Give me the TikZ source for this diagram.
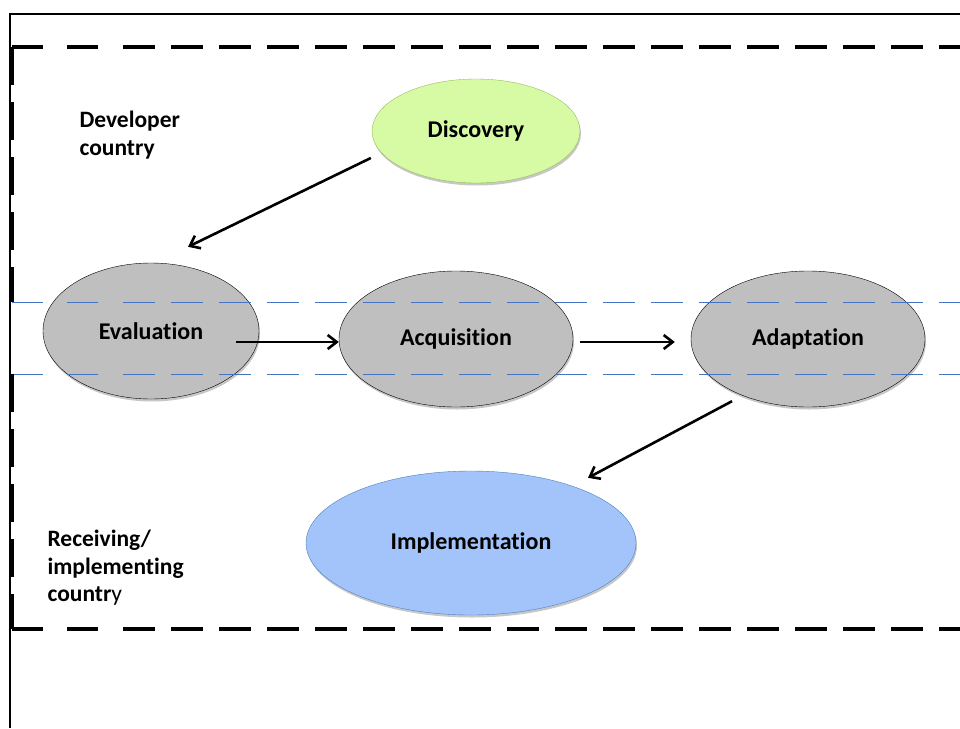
\documentclass[tikz,border=0pt]{standalone}
\usepackage{fontspec}
\setmainfont{Carlito}[Ligatures=NoCommon]
\usetikzlibrary{shapes.geometric, arrows.meta, shadows}
\definecolor{cGrey}{RGB}{191,191,191}
\definecolor{cLime}{RGB}{215,250,165}
\definecolor{cLimeEdge}{RGB}{155,187,89}
\definecolor{cSky}{RGB}{162,196,250}
\definecolor{cSkyEdge}{RGB}{79,129,189}
\definecolor{cLane}{RGB}{68,114,196}
\tikzset{
	phase/.style={ellipse, draw=black, fill=cGrey, inner sep=0pt, font=\fontsize{24}{28}\selectfont\bfseries, drop shadow={shadow xshift=1pt, shadow yshift=-2.5pt, fill=black, opacity=0.22}},
	flowarrow/.style={-{Straight Barb[length=9pt,width=14pt]}, line width=2.6pt},
	region/.style={align=left, anchor=west, font=\fontsize{23.5}{27.5}\selectfont\bfseries},
	bigdash/.style={line width=4.5pt},
	laneline/.style={draw=cLane, line width=1pt},
}
\begin{document}
\begin{tikzpicture}[x=1pt, y=-1pt]
	\useasboundingbox (0,0) rectangle (960,728);
	% outer frame
	\draw[line width=2pt] (10,728) -- (10,14) -- (960,14);
	% phases
	\node[phase, minimum width=208pt, minimum height=104pt, fill=cLime, draw=cLimeEdge] (disc) at (476,131) {Discovery};
	\node[phase, minimum width=216pt, minimum height=136pt] (eval) at (151,331) {Evaluation};
	\node[phase, minimum width=234pt, minimum height=136pt] (acq) at (456,339) {Acquisition};
	\node[phase, minimum width=234pt, minimum height=136pt] (adapt) at (808,339) {Adaptation};
	\node[phase, minimum width=330pt, minimum height=144pt, fill=cSky, draw=cSkyEdge] (impl) at (471,543) {Implementation};
	% country labels
	\node[region] (dev) at (76,135) {Developer\\country};
	\node[region] (recv) at (44,568) {Receiving/\\implementing\\countr{\mdseries y}};
	% flow
	\draw[flowarrow] ([xshift=-1pt,yshift=-27pt]disc.west) -- ([xshift=37pt,yshift=16pt]eval.north);
	\draw[flowarrow] ([xshift=-23pt,yshift=-11pt]eval.east) -- ([yshift=-3pt]acq.west);
	\draw[flowarrow] ([xshift=7pt,yshift=-3pt]acq.east) -- ([xshift=-16pt,yshift=-3pt]adapt.west);
	\draw[flowarrow] ([xshift=-76pt,yshift=6pt]adapt.south) -- ([xshift=117pt,yshift=-7pt]impl.north);
	% borders and lanes
	\foreach \y/\sty in {47/bigdash, 629/bigdash, 302/laneline, 374/laneline} {
		\draw[\sty] (12,\y) -- (43,\y);
		\draw[\sty] (67,\y) -- (98,\y);
		\draw[\sty, dash pattern=on 32pt off 16pt] (123,\y) -- (960,\y);
	}
	\foreach \ya/\yb in {47/302, 374/629}
		\draw[bigdash, dash pattern=on 38pt off 17pt] (12,\ya) -- (12,\yb);
\end{tikzpicture}
\end{document}
